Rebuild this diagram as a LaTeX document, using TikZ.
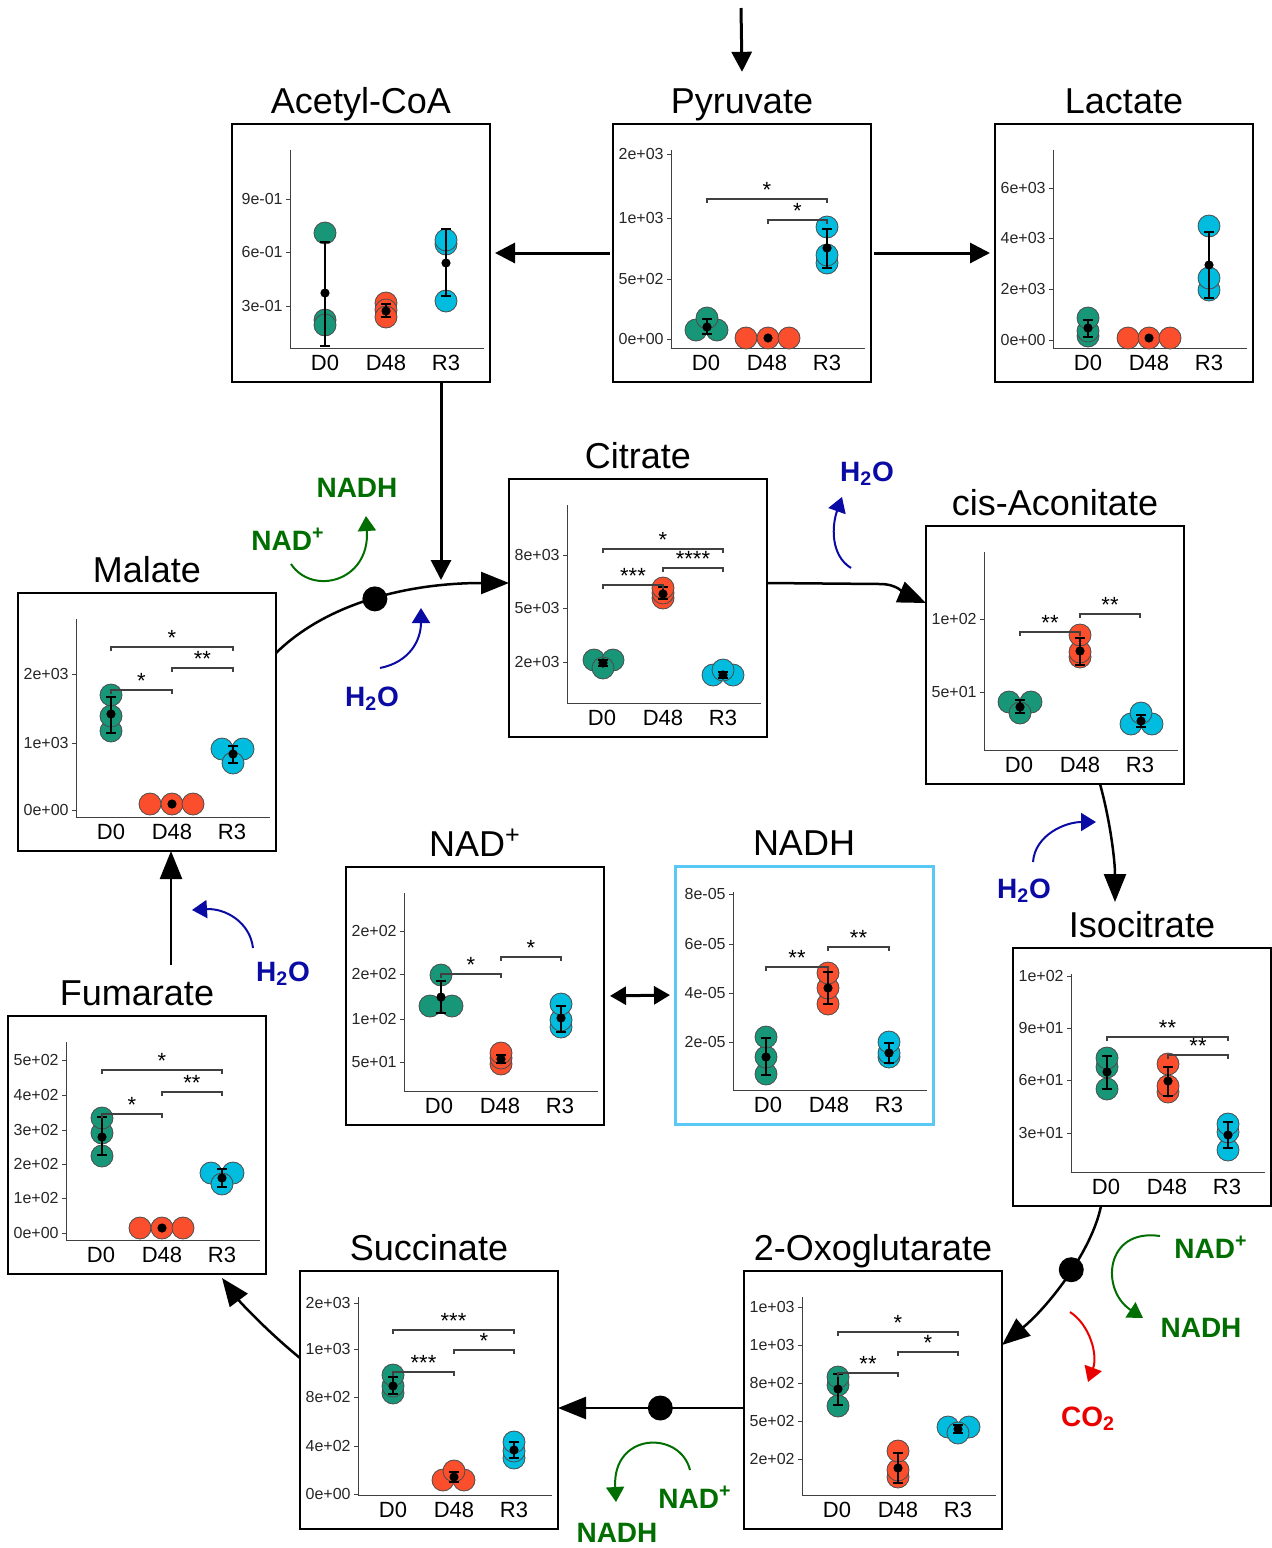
\documentclass[tikz,border=0pt]{standalone}
\usepackage{fontspec}
\setmainfont{Liberation Sans}
\usetikzlibrary{arrows.meta,calc}

\definecolor{grn}{RGB}{24,150,120}
\definecolor{org}{RGB}{250,78,44}
\definecolor{cyn}{RGB}{0,188,222}
\definecolor{h2oc}{RGB}{10,10,165}
\definecolor{nadc}{RGB}{0,110,0}
\definecolor{coc}{RGB}{235,0,0}
\definecolor{nadhbox}{RGB}{90,200,245}

\tikzset{
  box/.style={draw,line width=1pt,minimum width=129pt,minimum height=129pt,
    inner sep=0pt,outer sep=0pt,anchor=north west},
  ttl/.style={anchor=base,font=\fontsize{18}{20}\selectfont,inner sep=1pt},
  axis/.style={draw=black!75,line width=0.5pt},
  tick/.style={anchor=east,font=\fontsize{8}{9}\selectfont,text=black!85,inner sep=1pt},
  cat/.style={font=\fontsize{11}{12}\selectfont,inner sep=0pt},
  pt/.style={draw=black!70,line width=0.4pt},
  err/.style={line width=0.7pt},
  brk/.style={draw=black!75,line width=0.6pt},
  star/.style={anchor=base,font=\fontsize{11}{12}\selectfont,inner sep=0pt},
  dot/.style={circle,fill=black,inner sep=0pt,minimum size=12.5pt},
  flow/.style={line width=1.5pt,-{Triangle[length=10pt,width=10pt]}},
  cyc/.style={line width=1.25pt,-{Triangle[length=14pt,width=11pt]}},
  dbl/.style={line width=1.5pt,{Triangle[length=8pt,width=9pt]}-{Triangle[length=8pt,width=9pt]},
    shorten <=3pt,shorten >=2.5pt},
  side/.style={line width=1pt,-{Triangle[length=7.5pt,width=9pt]}},
  lab/.style={anchor=base,font=\bfseries\fontsize{14}{16}\selectfont,inner sep=0pt}
}

% one plot panel: box, title, axes, ticks, categories
\newcommand{\panel}[6][]{%
  \node[box,#1] (#2) at (#3,#4) {};
  \begin{scope}[shift={(#2.north west)}]
    \node[ttl] (#2-t) at (129,-11) {#5};
    \draw[axis] (58,26) -- (58,224) -- (252,224);
    \foreach \lbl/\yy in {#6} {
      \draw[axis] (54,\yy) -- (58,\yy);
      \node[tick] (#2-y\yy) at (53,\yy) {\lbl};
    }
    \foreach \lbl/\xx in {D0/93,D48/154,R3/214}
      \node[cat] (#2-\lbl) at (\xx,239) {\lbl};
  \end{scope}}
% replicate points, mean with error bar, mean only, significance bracket
\newcommand{\pts}[2]{\foreach \px/\py in {#2} \draw[pt,fill=#1] (\px,\py) circle (5.5pt);}
\newcommand{\avg}[4]{%
  \draw[err] (#1-5,#3) -- (#1+5,#3) (#1,#3) -- (#1,#4) (#1-5,#4) -- (#1+5,#4);
  \fill (#1,#2) circle (2.3pt);}
\newcommand{\mdot}[2]{\fill (#1,#2) circle (2.3pt);}
\newcommand{\sig}[4]{%
  \draw[brk] (#1,#3+4) |- (#2,#3) -- (#2,#3+4);
  \node[star] (s#1#2#3) at ({(#1+#2)/2},#3-2) {#4};}

\begin{document}
\begin{tikzpicture}[x=0.5pt,y=-0.5pt]
\useasboundingbox (0,0) rectangle (1272,1548);

%panels
\panel{acc}{232}{124}{Acetyl-CoA}{9e-01/75,6e-01/128,3e-01/182}
\panel{pyr}{613}{124}{Pyruvate}{2e+03/30,1e+03/94,5e+02/155,0e+00/215}
\panel{lac}{995}{124}{Lactate}{6e+03/64,4e+03/114,2e+03/165,0e+00/216}
\panel{cit}{509}{479}{Citrate}{8e+03/76,5e+03/129,2e+03/183}
\panel{aco}{926}{526}{cis-Aconitate}{1e+02/93,5e+01/166}
\panel{mal}{18}{593}{Malate}{2e+03/81,1e+03/150,0e+00/217}
\panel{nad}{346}{867}{NAD\textsuperscript{+}}{2e+02/64,2e+02/107,1e+02/152,5e+01/195}
\panel[draw=nadhbox,line width=1.5pt]{nadh}{675}{866}{NADH}{8e-05/28,6e-05/78,4e-05/127,2e-05/176}
\panel{iso}{1013}{948}{Isocitrate}{1e+02/28,9e+01/80,6e+01/132,3e+01/185}
\panel{fum}{8}{1016}{Fumarate}{5e+02/44,4e+02/79,3e+02/114,2e+02/148,1e+02/182,0e+00/217}
\panel{suc}{300}{1271}{Succinate}{2e+03/32,1e+03/78,8e+02/126,4e+02/175,0e+00/223}
\panel{oxo}{744}{1271}{2-Oxoglutarate}{1e+03/36,1e+03/74,8e+02/112,5e+02/150,2e+02/188}

%data
\begin{scope}[shift={(acc.north west)}]
  \pts{grn}{93/109,93/196,93/201}
  \pts{org}{154/179,154/186,154/193}
  \pts{cyn}{214/177,214/120,214/116}
  \avg{93}{169}{118}{222} \avg{154}{187}{180}{193} \avg{214}{139}{105}{172}
\end{scope}
\begin{scope}[shift={(pyr.north west)}]
  \pts{grn}{83/206,104/206,94/194}
  \pts{org}{133/214,155/214,176/214}
  \pts{cyn}{214/139,214/131,214/103}
  \avg{94}{203}{195}{210} \mdot{155}{214} \avg{214}{124}{105}{144}
  \sig{94}{214}{75}{*} \sig{155}{214}{96}{*}
\end{scope}
\begin{scope}[shift={(lac.north west)}]
  \pts{grn}{93/212,93/207,93/194}
  \pts{org}{133/214,154/214,175/214}
  \pts{cyn}{214/166,214/154,214/102}
  \avg{93}{204}{196}{213} \mdot{154}{214} \avg{214}{141}{108}{174}
\end{scope}
\begin{scope}[shift={(cit.north west)}]
  \pts{grn}{85/181,104/181,94/189}
  \pts{org}{154/119,154/114,154/109}
  \pts{cyn}{204/196,224/196,214/191}
  \avg{94}{184}{181}{187} \avg{154}{115}{108}{120} \avg{214}{196}{193}{199}
  \sig{94}{214}{70}{*} \sig{154}{214}{89}{****} \sig{94}{154}{106}{***}
\end{scope}
\begin{scope}[shift={(aco.north west)}]
  \pts{grn}{83/176,105/176,94/187}
  \pts{org}{154/131,154/126,154/109}
  \pts{cyn}{205/198,226/198,215/187}
  \avg{94}{181}{174}{187} \avg{154}{125}{112}{139} \avg{215}{195}{189}{201}
  \sig{94}{154}{106}{**} \sig{154}{214}{88}{**}
\end{scope}
\begin{scope}[shift={(mal.north west)}]
  \pts{grn}{93/138,93/123,93/102}
  \pts{org}{132/211,154/211,175/211}
  \pts{cyn}{204/156,225/156,215/170}
  \avg{93}{121}{104}{140} \mdot{154}{211} \avg{215}{161}{153}{170}
  \sig{93}{215}{54}{*} \sig{154}{215}{75}{**} \sig{93}{154}{97}{*}
\end{scope}
\begin{scope}[shift={(nad.north west)}]
  \pts{grn}{84/139,106/139,95/108}
  \pts{org}{155/197,155/191,155/186}
  \pts{cyn}{215/160,215/153,215/137}
  \avg{95}{130}{114}{146} \avg{155}{192}{188}{196} \avg{215}{151}{139}{165}
  \sig{95}{155}{107}{*} \sig{155}{215}{90}{*}
\end{scope}
\begin{scope}[shift={(nadh.north west)}]
  \pts{grn}{91/208,91/191,91/171}
  \pts{org}{153/138,153/122,153/107}
  \pts{cyn}{214/191,214/187,214/176}
  \avg{91}{191}{172}{209} \avg{153}{122}{106}{138} \avg{214}{187}{177}{197}
  \sig{91}{153}{101}{**} \sig{153}{214}{81}{**}
\end{scope}
\begin{scope}[shift={(iso.north west)}]
  \pts{grn}{94/141,94/119,94/110}
  \pts{org}{155/144,155/138,155/116}
  \pts{cyn}{215/202,215/184,215/176}
  \avg{94}{124}{108}{141} \avg{155}{133}{119}{148} \avg{215}{187}{174}{200}
  \sig{94}{215}{89}{**} \sig{155}{215}{107}{**}
\end{scope}
\begin{scope}[shift={(fum.north west)}]
  \pts{grn}{94/140,94/117,94/102}
  \pts{org}{132/212,154/212,175/212}
  \pts{cyn}{203/157,225/157,214/168}
  \avg{94}{121}{101}{139} \mdot{154}{212} \avg{214}{162}{153}{171}
  \sig{94}{214}{54}{*} \sig{154}{214}{76}{**} \sig{94}{154}{98}{*}
\end{scope}
\begin{scope}[shift={(suc.north west)}]
  \pts{grn}{93/122,93/115,93/104}
  \pts{org}{143/209,164/209,154/200}
  \pts{cyn}{214/187,214/180,214/171}
  \avg{93}{115}{106}{123} \avg{154}{206}{201}{211} \avg{214}{179}{171}{187}
  \sig{93}{214}{59}{***} \sig{154}{214}{79}{*} \sig{93}{154}{101}{***}
\end{scope}
\begin{scope}[shift={(oxo.north west)}]
  \pts{grn}{94/135,94/114,94/106}
  \pts{org}{154/206,154/199,154/180}
  \pts{cyn}{204/156,225/156,214/162}
  \avg{94}{118}{103}{134} \avg{154}{197}{182}{212} \avg{214}{158}{154}{162}
  \sig{94}{214}{61}{*} \sig{154}{214}{81}{*} \sig{94}{154}{102}{**}
\end{scope}

%pyruvate branch
\coordinate (in) at (741,8);
\draw[flow] (in) -- ($(pyr-t.north)+(0,-14)$);
\draw[flow,shorten <=1.5pt,shorten >=2.5pt] (pyr.west) -- (acc.east);
\draw[flow,shorten <=1.5pt,shorten >=2.5pt] (pyr.east) -- (lac.west);
\coordinate (j1) at (441,580);
\draw[flow] ($(acc.south west)+(209,0)$) -- (j1);
\draw[dbl] (nad.east) -- (nadh.west);

%cycle
\draw[cyc] ($(mal.north east)+(0,60)$) .. controls (328,602) and (410,583) ..
  node[dot,pos=0.5] (d1) {} ($(cit.north west)+(0,104)$);
\draw[cyc] ($(cit.north east)+(0,104)$) -- (880,584) .. controls (898,584) and (905,594) ..
  ($(aco.north west)+(0,77)$);
\coordinate (iso-in) at (1115,902);
\draw[cyc] ($(aco.south west)+(174,0)$) .. controls (1110,820) and (1115,860) .. (iso-in);
\draw[cyc] ($(iso.south west)+(88,0)$) .. controls (1092,1250) and (1050,1305) ..
  node[dot,pos=0.45] (d2) {} ($(oxo.north east)+(0,74)$);
\draw[cyc] ($(oxo.north west)+(0,137)$) -- node[dot,pos=0.45] (d3) {} ($(suc.north east)+(0,137)$);
\draw[cyc] ($(suc.north west)+(0,87)$) .. controls (268,1332) and (240,1302) .. ($(fum.south west)+(214,4)$);
\coordinate (fum-out) at (171,965);
\draw[cyc] (fum-out) -- ($(mal.south west)+(153,0)$);

%side reactions
\node[lab,text=nadc] (nadh1) at (357,497) {NADH};
\node[lab,text=nadc] (nadp1) at (288,550) {NAD\textsuperscript{+}};
\coordinate (g1a) at (291,564); \coordinate (g1b) at (366,516);
\draw[side,nadc] (g1a) .. controls (312,596) and (370,582) .. (g1b);

\node[lab,text=h2oc] (w1) at (372,706) {H\textsubscript{2}O};
\coordinate (b1a) at (380,668); \coordinate (b1b) at (421,608);
\draw[side,h2oc] (b1a) .. controls (410,662) and (421,640) .. (b1b);

\node[lab,text=h2oc] (w2) at (867,481) {H\textsubscript{2}O};
\coordinate (b2a) at (851,568); \coordinate (b2b) at (842,497);
\draw[side,h2oc] (b2a) .. controls (830,555) and (832,525) .. (b2b);

\node[lab,text=h2oc] (w3) at (1024,898) {H\textsubscript{2}O};
\coordinate (b3a) at (1033,862); \coordinate (b3b) at (1096,822);
\draw[side,h2oc] (b3a) .. controls (1035,835) and (1065,822) .. (b3b);

\node[lab,text=h2oc] (w4) at (283,981) {H\textsubscript{2}O};
\coordinate (b4a) at (253,948); \coordinate (b4b) at (192,910);
\draw[side,h2oc] (b4a) .. controls (250,922) and (225,908) .. (b4b);

\node[lab,text=nadc] (nadp2) at (1211,1258) {NAD\textsuperscript{+}};
\node[lab,text=nadc] (nadh2) at (1201,1337) {NADH};
\coordinate (g2a) at (1160,1236); \coordinate (g2b) at (1143,1318);
\draw[side,nadc] (g2a) .. controls (1105,1228) and (1100,1290) .. (g2b);

\node[lab,text=coc] (co2) at (1088,1426) {CO\textsubscript{2}};
\coordinate (r1a) at (1070,1312); \coordinate (r1b) at (1088,1382);
\draw[side,coc] (r1a) .. controls (1090,1325) and (1098,1355) .. (r1b);

\node[lab,text=nadc] (nadp3) at (695,1508) {NAD\textsuperscript{+}};
\node[lab,text=nadc] (nadh3) at (617,1542) {NADH};
\coordinate (g3a) at (690,1470); \coordinate (g3b) at (616,1502);
\draw[side,nadc] (g3a) .. controls (680,1430) and (612,1432) .. (g3b);
\end{tikzpicture}
\end{document}
